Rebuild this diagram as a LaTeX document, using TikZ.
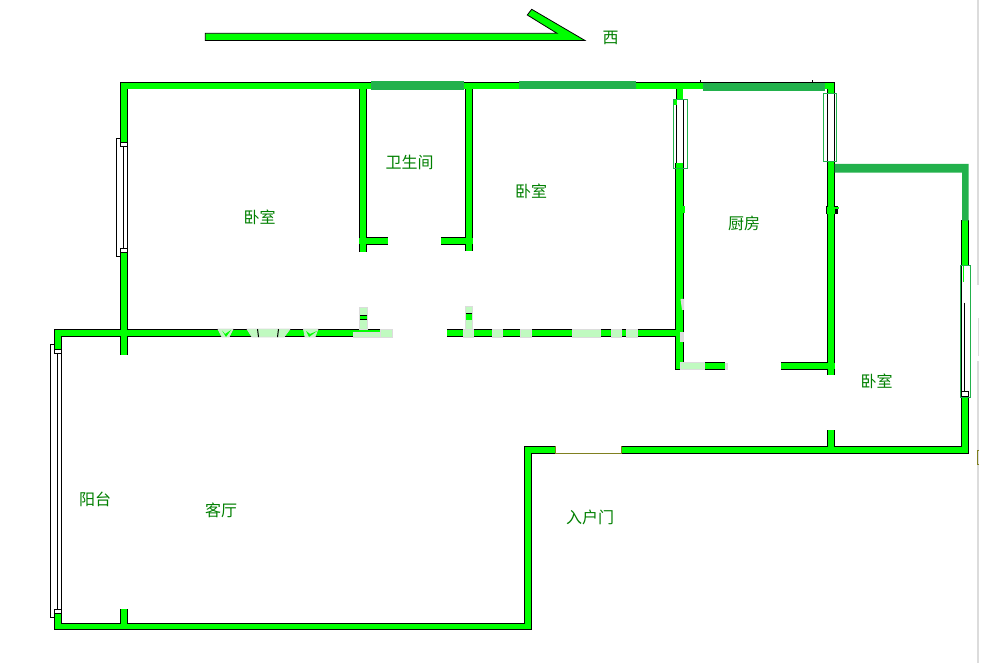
\documentclass[tikz,border=0pt]{standalone}
\usepackage{fontspec}
\newfontfamily\cjkfont{Noto Sans CJK SC}
\definecolor{wallgreen}{RGB}{0,255,0}
\definecolor{darkwall}{RGB}{34,177,76}
\definecolor{labelgreen}{RGB}{0,128,0}
\definecolor{palegreen}{RGB}{192,250,192}
\definecolor{paleedge}{RGB}{220,220,220}
\definecolor{doorolive}{RGB}{128,128,32}
\tikzset{
  roomlabel/.style={text=labelgreen,font=\cjkfont\fontsize{16}{16}\selectfont,inner sep=0pt},
  winbox/.style={draw=black,line width=1pt,fill=white},
  winframe/.style={draw=darkwall,line width=1pt},
  winline/.style={draw=black,line width=1pt},
  patch/.style={fill=palegreen,draw=paleedge,line width=.7pt},
  cornerline/.style={draw=black,line width=.9pt,line join=miter}
}
% horizontal wall: x1,x2,top y ; vertical wall: left x,y1,y2
\newcommand{\wallset}{%
  \wallh{54.5}{392}{329.3}\wallh{447}{680}{329.3}
  \wallh{120.5}{835}{82}
  \wallh{54.5}{531.5}{622.7}
  \wallh{524.3}{555.5}{446}\wallh{621}{969}{446}
  \wallh{675.3}{725}{362.2}\wallh{781}{834.7}{362.2}
  \wallh{359.3}{388}{237.5}\wallh{441}{472.7}{237.5}
  \wallv{120.3}{82}{142}\wallv{120.3}{253}{355}
  \wallv{54.5}{329.3}{349}\wallv{54.5}{613}{630.2}
  \wallv{120.3}{609.3}{624}
  \wallv{524.3}{446}{630}
  \wallv{359.3}{84}{252}\wallv{465.3}{84}{251}
  \wallv{675.8}{84}{99}\wallv{675.8}{163}{369.7}
  \wallv{827.2}{84}{93}\wallv{827.2}{161}{375}
  \wallv{827.2}{430}{448}
  \wallv{961.3}{220}{265}\wallv{961.3}{396}{453.5}
}
\begin{document}
\begin{tikzpicture}[x=1pt,y=-1pt]
\useasboundingbox (0,0) rectangle (994,663);
\fill[white] (0,0) rectangle (994,663);
% page edge
\fill[paleedge] (977.3,0) rectangle (979,285);
\fill[paleedge] (977.5,318) rectangle (978.5,356);
\fill[paleedge] (977.3,361) rectangle (979,663);
\draw[doorolive,line width=.7pt] (979,450) -- (977.6,450) -- (977.6,464) -- (979,464);
% compass arrow
\draw[fill=wallgreen,draw=black,line width=.8pt,line join=miter]
  (205.3,33.3) -- (557,33.3) -- (527.3,15) -- (531.7,9.3) -- (585,40.5) -- (205.3,40.5) -- cycle;
\node[roomlabel] (west) at (610.5,37.8) {西};
% window frames below walls
\draw[winline] (116.3,138.5) rectangle (123.5,257);
\draw[winline] (127.5,138.5) -- (127.5,257);
\draw[winline] (50.3,344) rectangle (57.7,617);
\draw[winline] (61.7,344) -- (61.7,617);
\draw[winline] (676.3,99) -- (676.3,163);
\draw[winline] (683.3,99) -- (683.3,163);
\draw[winline] (827.8,93) -- (827.8,161);
\draw[winline] (834.3,93) -- (834.3,161);
\draw[winline] (961.8,265) -- (961.8,391);
\draw[winline] (964.5,302.7) -- (964.5,391);
% wall outlines
\newcommand{\wallh}[3]{\fill[black] (#1,#3) rectangle (#2,#3+7.5);}
\newcommand{\wallv}[3]{\fill[black] (#1,#2) rectangle (#1+7.5,#3);}
\wallset
\fill[black] (675.3,163) rectangle (684,369.7);
\fill[black] (826,206) rectangle (838,214);
\fill[black] (699.5,80.5) rectangle (700.3,82);
\fill[black] (812,80.5) rectangle (812.8,82);
% wall fill
\renewcommand{\wallh}[3]{\fill[wallgreen] (#1,#3+.8) rectangle (#2,#3+6.7);}
\renewcommand{\wallv}[3]{\fill[wallgreen] (#1+.8,#2) rectangle (#1+6.7,#3);}
\wallset
\fill[wallgreen] (676,163) rectangle (683.2,369);
\fill[wallgreen] (826.5,207) rectangle (835,214);
\fill[wallgreen] (835,207) rectangle (838.5,209);
\fill[wallgreen] (683,206.5) rectangle (685,213.5);
\fill[wallgreen] (962.5,265) rectangle (963.5,282);
\fill[wallgreen] (673.5,99) rectangle (676.5,105);
% outer corners keep their black edge
\path[cornerline] (120.7,142) -- (120.7,82.4) -- (140,82.4);
\path[cornerline] (54.9,349) -- (54.9,329.7) -- (80,329.7);
\path[cornerline] (54.9,613) -- (54.9,629.8) -- (531.3,629.8) -- (531.3,600);
\path[cornerline] (524.7,470) -- (524.7,446.4) -- (545,446.4);
\path[cornerline] (815,82.4) -- (834.4,82.4) -- (834.4,93);
\path[cornerline] (968.6,396) -- (968.6,453.1) -- (940,453.1);
\path[cornerline] (675.7,340) -- (675.7,369.3) -- (700,369.3);
% little window end boxes
\draw[winbox] (120.8,142.3) rectangle (127.3,146.5);
\draw[winbox] (120.8,249) rectangle (127.3,253);
\draw[winbox] (54.8,349) rectangle (61.7,353);
\draw[winbox] (54.8,609) rectangle (61.7,613);
\draw[winbox] (961.8,391) rectangle (968.3,396);
% window frames over walls
\draw[winframe] (673.6,99.2) rectangle (687.5,168.5);
\draw[winframe] (823.5,93.5) rectangle (836.5,161.5);
\draw[winframe] (960.5,265.5) rectangle (970.5,397);
% dark green wall pieces
\fill[darkwall] (371,81) rectangle (464,90);
\fill[darkwall] (519,81) rectangle (636,88.7);
\fill[darkwall] (703,83) rectangle (825,91);
\fill[darkwall] (834.7,164) -- (968.7,164) -- (968.7,220.7) -- (962,220.7) -- (962,172.7) -- (834.7,172.7) -- cycle;
% entrance door
\draw[doorolive,line width=.8pt] (555.4,446) -- (555.4,453.2) -- (621,453.2) -- (621,446);
% pale patches
\draw[patch] (218,329) -- (233,329) -- (229,337) -- (222,337) -- cycle;
\fill[wallgreen] (222,330.5) -- (225,334) -- (231,330) -- (226,337) -- cycle;
\draw[patch] (247,329) -- (290,329) -- (284,337) -- (252,337) -- cycle;
\fill[black] (257,329) -- (258,329) -- (259,337) -- (258,337) -- cycle;
\fill[black] (278,329) -- (279,329) -- (278,337) -- (277,337) -- cycle;
\draw[patch] (303.5,329) -- (318,329) -- (315,337) -- (305,337) -- cycle;
\fill[wallgreen] (306,331) -- (310,334) -- (317,331) -- (309,337) -- cycle;
\draw[patch] (353,337) rectangle (392,332);
\draw[patch] (380,329) rectangle (392,337);
\draw[patch] (359.3,307.5) rectangle (367,329);
\fill[black] (359.8,315) rectangle (366.5,320);
\fill[wallgreen] (360,316.5) rectangle (366.5,319.5);
\draw[patch] (463.5,329) rectangle (473.5,337);
\draw[patch] (465.3,306.5) rectangle (472.7,329);
\fill[black] (465.8,313.5) rectangle (472.2,320);
\fill[wallgreen] (466,314.5) rectangle (472,320);
\draw[patch] (492,329) rectangle (502,337);
\draw[patch] (520,329) rectangle (531,337);
\draw[patch] (572,329) rectangle (600,337);
\draw[patch] (611,329) rectangle (621,337);
\draw[patch] (626,329) rectangle (637,337);
\draw[patch] (680,362.5) rectangle (704.5,369.7);
\fill[paleedge] (680,332) rectangle (683.5,342);
\fill[paleedge] (680.5,299) -- (684,299) -- (684,310) -- (682,310) -- cycle;
\fill[paleedge] (725,362.5) rectangle (728,369.7);
% room labels
\node[roomlabel] (bath) at (409.5,162.6) {卫生间};
\node[roomlabel] (bedmid) at (531,191.6) {卧室};
\node[roomlabel] (bedleft) at (259.5,217.6) {卧室};
\node[roomlabel] (kitchen) at (744,223.6) {厨房};
\node[roomlabel] (bedright) at (876.5,381) {卧室};
\node[roomlabel] (balcony) at (95,499) {阳台};
\node[roomlabel] (living) at (221,510.6) {客厅};
\node[roomlabel] (entry) at (590,517.6) {入户门};
\end{tikzpicture}
\end{document}
